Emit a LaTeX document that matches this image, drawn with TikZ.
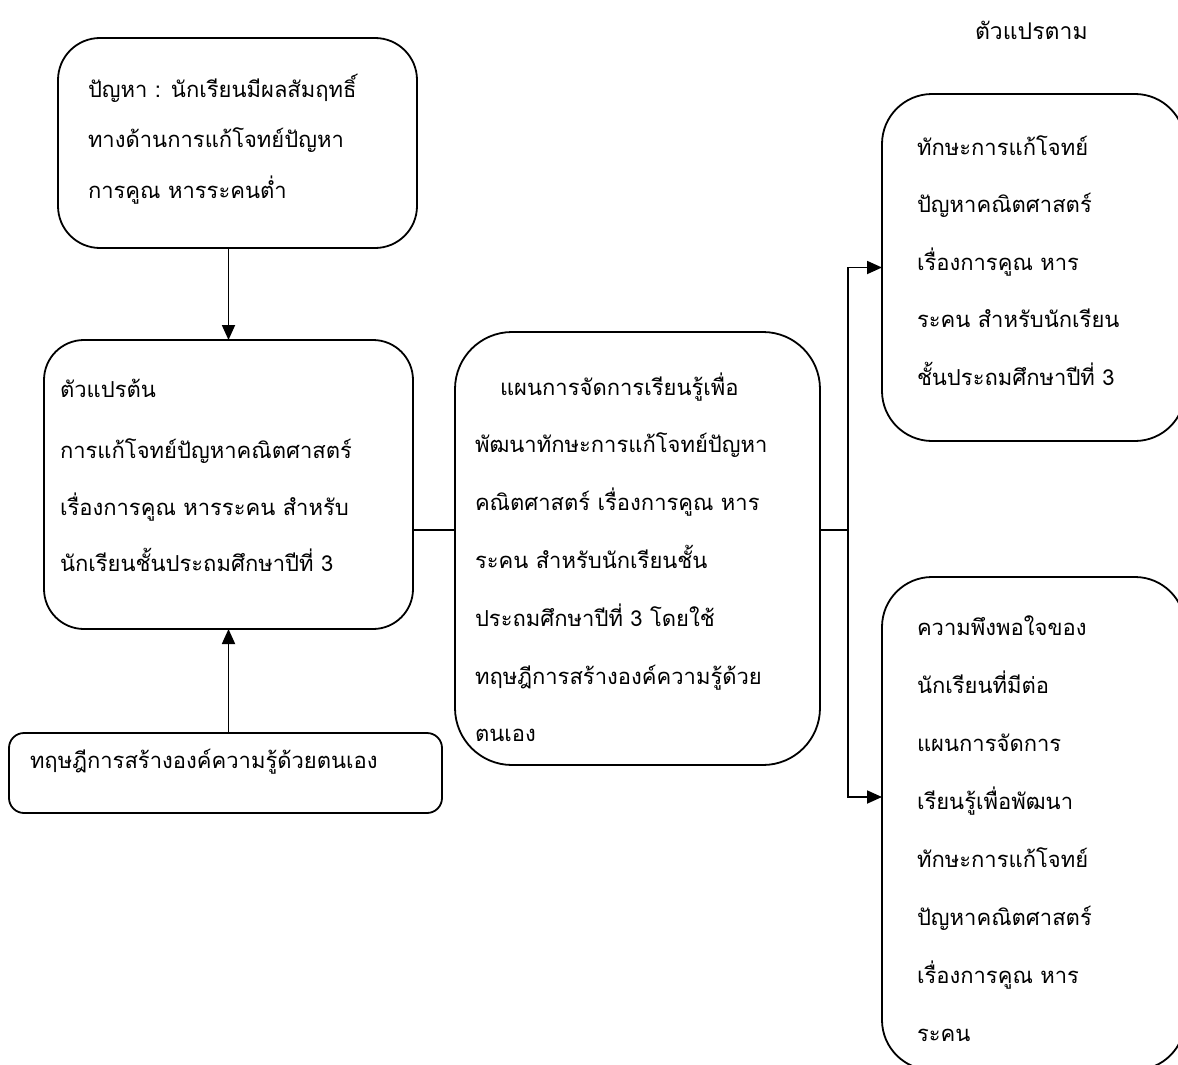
\documentclass[tikz,border=0pt]{standalone}
\usepackage{fontspec}
\newfontfamily\thai[Script=Thai]{Loma}
\usetikzlibrary{arrows.meta}
\newcommand{\tlines}[3]{\begin{minipage}[t]{#1}\raggedright\fontsize{22}{#2}\selectfont\thai #3\end{minipage}}
\begin{document}
\begin{tikzpicture}[x=1pt,y=-1pt,
  boxst/.style={draw, line width=1.8pt, inner sep=0pt, outer sep=0pt, anchor=north west},
  txt/.style={inner sep=0pt, outer sep=0pt, anchor=base west},
  arr/.style={line width=1.8pt, -{Triangle[length=15pt,width=13pt]}},
  ln/.style={line width=1.8pt}]
\useasboundingbox (0,0) rectangle (1178,1065);
\fill[white] (0,0) rectangle (1178,1065);
\clip (0,0) rectangle (1178,1065);
% boxes
\node[boxst, rounded corners=42pt, minimum width=359pt, minimum height=210pt] (prob) at (58,38) {};
\node[boxst, rounded corners=40pt, minimum width=369pt, minimum height=289pt] (indep) at (44,340) {};
\node[boxst, rounded corners=15pt, minimum width=433pt, minimum height=80pt] (theory) at (9,733) {};
\node[boxst, rounded corners=57pt, minimum width=365pt, minimum height=433pt] (plan) at (455,332) {};
\node[boxst, rounded corners=50pt, minimum width=303pt, minimum height=347pt] (dvone) at (882,94) {};
\node[boxst, rounded corners=50pt, minimum width=303pt, minimum height=493pt] (dvtwo) at (882,577) {};
% texts
\node[txt] (probt) at (88,97) {\tlines{320pt}{50.5pt}{ปัญหา : นักเรียนมีผลสัมฤทธิ์\\ทางด้านการแก้โจทย์ปัญหา\\การคูณ หารระคนต่ำ}};
\node[txt] (indept) at (60,397) {\tlines{350pt}{56.5pt}{ตัวแปรต้น\\[5pt]การแก้โจทย์ปัญหาคณิตศาสตร์\\เรื่องการคูณ หารระคน สำหรับ\\นักเรียนชั้นประถมศึกษาปีที่ 3}};
\node[txt] (theoryt) at (30,768) {\fontsize{22}{26}\selectfont\thai ทฤษฎีการสร้างองค์ความรู้ด้วยตนเอง};
\node[txt] (plant) at (475,395) {\tlines{340pt}{57.8pt}{\hspace*{25pt}แผนการจัดการเรียนรู้เพื่อ\\พัฒนาทักษะการแก้โจทย์ปัญหา\\คณิตศาสตร์ เรื่องการคูณ หาร\\ระคน สำหรับนักเรียนชั้น\\ประถมศึกษาปีที่ 3 โดยใช้\\ทฤษฎีการสร้างองค์ความรู้ด้วย\\ตนเอง}};
\node[txt] (dvonet) at (917,155) {\tlines{260pt}{57.5pt}{ทักษะการแก้โจทย์\\ปัญหาคณิตศาสตร์\\เรื่องการคูณ หาร\\ระคน สำหรับนักเรียน\\ชั้นประถมศึกษาปีที่ 3}};
\node[txt] (dvtwot) at (917,635) {\tlines{260pt}{58pt}{ความพึงพอใจของ\\นักเรียนที่มีต่อ\\แผนการจัดการ\\เรียนรู้เพื่อพัฒนา\\ทักษะการแก้โจทย์\\ปัญหาคณิตศาสตร์\\เรื่องการคูณ หาร\\ระคน}};
\node[txt] (title) at (975,40) {\fontsize{23}{26}\selectfont\thai ตัวแปรตาม};
% connectors
\coordinate (ja) at (848,530);
\coordinate (jb) at (848,797);
\draw[arr] (indep.north |- prob.south) -- (indep.north);
\draw[arr] (indep.south |- theory.north) -- (indep.south);
\draw[ln] (indep.east |- ja) -- (plan.west |- ja);
\draw[ln] (plan.east |- ja) -- (ja);
\draw[arr] (ja) -- (ja |- dvone.west) -- (dvone.west);
\draw[arr] (ja) -- (jb) -- (dvtwo.west |- jb);
\end{tikzpicture}
\end{document}
